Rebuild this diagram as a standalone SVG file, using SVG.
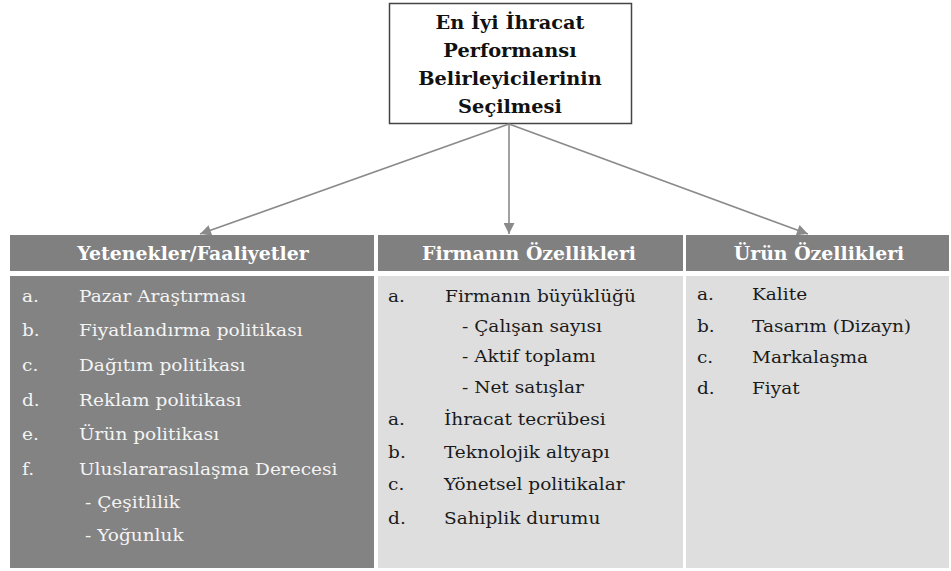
<svg xmlns="http://www.w3.org/2000/svg" width="951" height="571" viewBox="0 0 951 571">
<defs>
<style>
.bg{fill:#ffffff}
.hdr{fill:#808080}
.dark{fill:#838383}
.light{fill:#dedede}
.ttl{font-family:'DejaVu Serif',serif;font-weight:bold;font-size:18px;fill:#111;text-anchor:middle}
.ht{font-family:'DejaVu Serif',serif;font-weight:bold;font-size:18px;fill:#ffffff;text-anchor:middle}
.bt{font-family:'DejaVu Serif',serif;font-size:17px}
.w{fill:#f4f4f4}
.k{fill:#1a1a1a}
.conn{stroke:#8a8a8a;stroke-width:1.6;fill:none}
</style>
<marker id="ah" viewBox="0 0 10 10" refX="10" refY="5" markerWidth="12" markerHeight="11" markerUnits="userSpaceOnUse" orient="auto">
<path d="M0,0 L10,5 L0,10 z" fill="#8a8a8a"/>
</marker>
</defs>
<rect class="bg" x="0" y="0" width="951" height="571"/>

<g id="title">
<rect x="389.5" y="3.5" width="242" height="120" fill="#ffffff" stroke="#444" stroke-width="1.5"/>
<g transform="scale(1.075,1)">
<text class="ttl" x="474.4" y="29">En İyi İhracat</text>
<text class="ttl" x="474.4" y="57">Performansı</text>
<text class="ttl" x="474.4" y="85">Belirleyicilerinin</text>
<text class="ttl" x="474.4" y="113">Seçilmesi</text>
</g>
</g>

<g id="connectors">
<line class="conn" x1="509" y1="124" x2="200" y2="234" marker-end="url(#ah)"/>
<line class="conn" x1="509" y1="124" x2="509" y2="234" marker-end="url(#ah)"/>
<line class="conn" x1="509" y1="124" x2="808" y2="234" marker-end="url(#ah)"/>
</g>

<g id="col-yetenekler">
<rect class="hdr" x="10" y="235" width="364" height="36"/>
<rect class="dark" x="10" y="276" width="364" height="292"/>
<g transform="scale(1.05,1)">
<text class="ht" x="183.8" y="260">Yetenekler/Faaliyetler</text>
</g>
<g transform="scale(1.09,1)" class="bt w">
<text x="20.2" y="302">a.</text><text x="72.5" y="302">Pazar Araştırması</text>
<text x="20.2" y="336">b.</text><text x="72.5" y="336">Fiyatlandırma politikası</text>
<text x="20.2" y="371">c.</text><text x="72.5" y="371">Dağıtım politikası</text>
<text x="20.2" y="406">d.</text><text x="72.5" y="406">Reklam politikası</text>
<text x="20.2" y="440">e.</text><text x="72.5" y="440">Ürün politikası</text>
<text x="20.2" y="475">f.</text><text x="72.5" y="475">Uluslararasılaşma Derecesi</text>
<text x="78" y="508">- Çeşitlilik</text>
<text x="78" y="541">- Yoğunluk</text>
</g>
</g>

<g id="col-firma">
<rect class="hdr" x="378" y="235" width="305" height="36"/>
<rect class="light" x="378" y="276" width="305" height="292"/>
<g transform="scale(1.05,1)">
<text class="ht" x="503.8" y="260">Firmanın Özellikleri</text>
</g>
<g transform="scale(1.09,1)" class="bt k">
<text x="356" y="302">a.</text><text x="408.3" y="302">Firmanın büyüklüğü</text>
<text x="423.9" y="332">- Çalışan sayısı</text>
<text x="423.9" y="362">- Aktif toplamı</text>
<text x="423.9" y="393">- Net satışlar</text>
<text x="356" y="425">a.</text><text x="407.3" y="425">İhracat tecrübesi</text>
<text x="356" y="458">b.</text><text x="407.3" y="458">Teknolojik altyapı</text>
<text x="356" y="490">c.</text><text x="407.3" y="490">Yönetsel politikalar</text>
<text x="356" y="524">d.</text><text x="407.3" y="524">Sahiplik durumu</text>
</g>
</g>

<g id="col-urun">
<rect class="hdr" x="686" y="235" width="263" height="36"/>
<rect class="light" x="686" y="276" width="263" height="292"/>
<g transform="scale(1.05,1)">
<text class="ht" x="780" y="260">Ürün Özellikleri</text>
</g>
<g transform="scale(1.09,1)" class="bt k">
<text x="639.4" y="300">a.</text><text x="689.9" y="300">Kalite</text>
<text x="639.4" y="332">b.</text><text x="689.9" y="332">Tasarım (Dizayn)</text>
<text x="639.4" y="363">c.</text><text x="689.9" y="363">Markalaşma</text>
<text x="639.4" y="394">d.</text><text x="689.9" y="394">Fiyat</text>
</g>
</g>
</svg>
